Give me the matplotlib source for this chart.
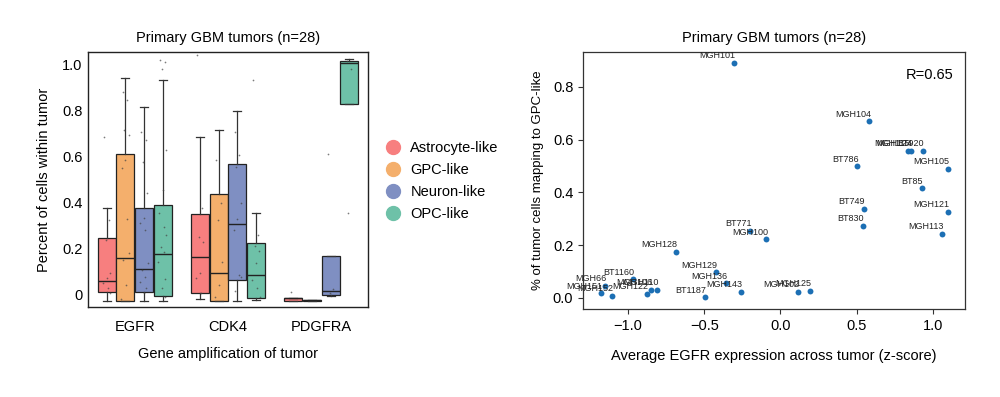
import matplotlib
matplotlib.use("Agg")
import matplotlib.pyplot as plt
from matplotlib.lines import Line2D

plt.rcParams['font.family'] = ['Liberation Sans', 'DejaVu Sans']

# ---- left panel data: box stats per gene (rows) and cell state (cols)
genes = ["EGFR", "CDK4", "PDGFRA"]
states = ["Astrocyte-like", "GPC-like", "Neuron-like", "OPC-like"]
state_colors = ["#F77F7F", "#F4AF6C", "#7F8FC2", "#6EC1A8"]

q1 = [[0.014, -0.025, 0.014, -0.004],
      [0.007, -0.025, 0.065, -0.012],
      [-0.024, -0.026, -0.001, 0.827]]
med = [[0.062, 0.159, 0.111, 0.177],
       [0.166, 0.094, 0.307, 0.085],
       [-0.013, -0.023, 0.017, 1.003]]
q3 = [[0.247, 0.610, 0.378, 0.388],
      [0.352, 0.436, 0.567, 0.225],
      [-0.012, -0.020, 0.169, 1.014]]
whislo = [[-0.025, -0.025, -0.025, -0.025],
          [-0.019, -0.025, -0.025, -0.020],
          [-0.024, -0.026, -0.006, 0.827]]
whishi = [[0.375, 0.938, 0.815, 0.931],
          [0.685, 0.714, 0.798, 0.354],
          [-0.012, -0.020, 0.169, 1.024]]

# individual tumours (jittered dots)
dots = [
    [[0.683, 0.325, 0.238, 0.094, 0.072, 0.053, 0.029, 0.007],
     [0.88, 0.844, 0.714, 0.693, 0.584, 0.548, 0.328, 0.18, 0.152, 0.043, -0.019],
     [0.707, 0.671, 0.577, 0.44, 0.332, 0.31, 0.281, 0.137, 0.108, 0.079, 0.058, 0.029, 0.007],
     [1.02, 1.01, 0.981, 0.628, 0.455, 0.354, 0.296, 0.26, 0.21, 0.188, 0.144, 0.068, 0.029, -0.007]],
    [[1.04, 0.375, 0.252, 0.23, 0.094, 0.072, 0.007],
     [0.584, 0.397, 0.325, 0.144, 0.043, -0.007],
     [0.707, 0.606, 0.555, 0.397, 0.328, 0.281, 0.087, 0.079, 0.018],
     [0.931, 0.26, 0.212, 0.192, 0.14, 0.065, 0.029, -0.007]],
    [[0.014],
     [],
     [0.609, 0.025, 0.007],
     [1.014, 0.981, 0.354]],
]

# ---- right panel data
samples = ["MGH101", "MGH104", "MGH115", "MGH124", "BT920", "BT786", "MGH105",
           "BT85", "BT749", "MGH121", "BT830", "MGH113", "BT771", "MGH100",
           "MGH128", "MGH129", "MGH136", "MGH143", "BT1187", "MGH102", "MGH125",
           "BT1160", "MGH66", "MGH151", "MGH152", "MGH122", "MGH106", "MGH110"]
egfr_z = [-0.306, 0.583, 0.837, 0.858, 0.933, 0.502, 1.097,
          0.926, 0.546, 1.097, 0.540, 1.060, -0.197, -0.092,
          -0.688, -0.421, -0.356, -0.262, -0.498, 0.113, 0.192,
          -0.968, -1.151, -1.180, -1.107, -0.874, -0.852, -0.808]
gpc_frac = [0.889, 0.669, 0.556, 0.556, 0.556, 0.498, 0.489,
            0.415, 0.338, 0.327, 0.274, 0.242, 0.255, 0.222,
            0.173, 0.097, 0.055, 0.024, 0.002, 0.024, 0.026,
            0.070, 0.045, 0.017, 0.007, 0.014, 0.030, 0.030]

fig = plt.figure(figsize=(10, 3.97), dpi=100)

# ---------------- left: boxplots
ax1 = fig.add_axes([0.088, 0.2267, 0.280, 0.642])
offsets = [-0.3, -0.1, 0.1, 0.3]
jit = [-0.03, 0.02, -0.01, 0.035, 0.0, -0.04, 0.015, 0.04, -0.02, 0.01, -0.045, 0.025, -0.005, 0.03]
for g in range(len(genes)):
    for s in range(len(states)):
        pos = g + offsets[s]
        st = dict(med=med[g][s], q1=q1[g][s], q3=q3[g][s],
                  whislo=whislo[g][s], whishi=whishi[g][s], fliers=[])
        ax1.bxp([st], positions=[pos], widths=0.19, patch_artist=True,
                showfliers=False, capwidths=0.085,
                boxprops=dict(facecolor=state_colors[s], edgecolor="#222222", linewidth=0.9),
                medianprops=dict(color="#222222", linewidth=1.0),
                whiskerprops=dict(color="#333333", linewidth=0.9),
                capprops=dict(color="#333333", linewidth=0.9))
        vals = dots[g][s]
        xs = [pos + jit[i % len(jit)] for i in range(len(vals))]
        ax1.scatter(xs, vals, s=1.5, color="#444444", alpha=0.7, zorder=5, linewidths=0)

ax1.set_xlim(-0.5, 2.5)
ax1.set_ylim(-0.052, 1.052)
ax1.set_xticks(range(len(genes)))
ax1.set_xticklabels(genes)
ax1.set_yticks([0, 0.2, 0.4, 0.6, 0.8, 1.0])
ax1.set_yticklabels(["0", "0.2", "0.4", "0.6", "0.8", "1.0"])
ax1.tick_params(axis="both", length=0, labelsize=10.5)
ax1.tick_params(axis="x", pad=9)
ax1.tick_params(axis="y", pad=4)
for sp in ax1.spines.values():
    sp.set_color("#222222")
    sp.set_linewidth(1.0)
ax1.set_title("Primary GBM tumors (n=28)", fontsize=10.5, pad=7)
ax1.set_ylabel("Percent of cells within tumor", fontsize=10.5, labelpad=8)
ax1.set_xlabel("Gene amplification of tumor", fontsize=10.5, labelpad=10)

handles = [Line2D([], [], marker="o", linestyle="", markersize=10,
                  markerfacecolor=c, markeredgecolor=c) for c in state_colors]
fig.legend(handles, states, loc="upper left", bbox_to_anchor=(0.371, 0.678),
           frameon=False, fontsize=10.5, handletextpad=0.6, labelspacing=0.55,
           handlelength=1.2)

# ---------------- right: scatter
ax2 = fig.add_axes([0.583, 0.2217, 0.382, 0.647])
ax2.scatter(egfr_z, gpc_frac, s=18, color="#1C6FB4", zorder=3, linewidths=0)
for name, xv, yv in zip(samples, egfr_z, gpc_frac):
    ax2.annotate(name, (xv, yv), xytext=(1, 2), textcoords="offset points",
                 ha="right", va="bottom", fontsize=6.5, color="#222222")
ax2.text(0.97, 0.91, "R=0.65", transform=ax2.transAxes, ha="right", va="center",
         fontsize=10.5)
ax2.set_xlim(-1.295, 1.21)
ax2.set_ylim(-0.042, 0.931)
ax2.set_xticks([-1.0, -0.5, 0.0, 0.5, 1.0])
ax2.set_yticks([0.0, 0.2, 0.4, 0.6, 0.8])
ax2.tick_params(axis="both", length=3.5, width=0.8, labelsize=10.5, color="#333333")
for sp in ax2.spines.values():
    sp.set_color("#333333")
    sp.set_linewidth(0.9)
ax2.set_title("Primary GBM tumors (n=28)", fontsize=10.5, pad=7)
ax2.set_ylabel("% of tumor cells mapping to GPC-like", fontsize=9.5, labelpad=6)
ax2.set_xlabel("Average EGFR expression across tumor (z-score)", fontsize=10.5, labelpad=12)

fig.savefig("out.png", dpi=100)
